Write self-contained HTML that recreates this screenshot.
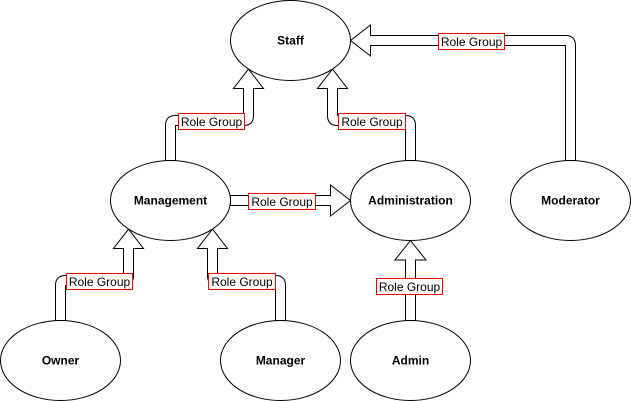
<!DOCTYPE html>
<html>
<head>
<meta charset="utf-8">
<style>
  html, body { margin:0; padding:0; background:#fff; }
  svg { display:block; }
  .lbl { font-family:"Liberation Sans", Arial, sans-serif; font-size:12px; fill:#000; }
  .node { font-family:"Liberation Sans", Arial, sans-serif; font-size:12px; font-weight:bold; fill:#000; }
</style>
</head>
<body>
<svg width="631" height="401" viewBox="0 0 631 401" xmlns="http://www.w3.org/2000/svg">
  <rect x="0" y="0" width="631" height="401" fill="#fff"/>
  <g transform="translate(0.5,0.5)" fill="#fff" stroke="#000" stroke-width="1" stroke-linejoin="miter">
    <!-- Arrows -->
    <path d="M165,160 L165,125 Q165,115 175,115 L243,115 L243,88 L233,88 L248,68.6 L263,88 L253,88 L253,115 Q253,125 243,125 L175,125 L175,160 Z"/>
    <path d="M405,160 L405,125 L337,125 Q327,125 327,115 L327,88 L317,88 L332,68.6 L347,88 L337,88 L337,115 L405,115 Q415,115 415,125 L415,160 Z"/>
    <path d="M565,160 L565,45 L370,45 L370,55.5 L350,40 L370,24.5 L370,35 L565,35 Q575,35 575,45 L575,160 Z"/>
    <path d="M230,195 L330,195 L330,184.5 L350,200 L330,215.5 L330,205 L230,205 Z"/>
    <path d="M55,320 L55,285 Q55,275 65,275 L123,275 L123,248 L113,248 L128,228.6 L143,248 L133,248 L133,275 Q133,285 123,285 L65,285 L65,320 Z"/>
    <path d="M285,320 L285,285 Q285,275 275,275 L217,275 L217,248 L227,248 L212,228.6 L197,248 L207,248 L207,275 Q207,285 217,285 L275,285 L275,320 Z"/>
    <path d="M405,320 L405,259.5 L394.5,259.5 L410,240 L425.5,259.5 L415,259.5 L415,320 Z"/>

    <!-- Ellipses -->
    <ellipse cx="290" cy="40" rx="60" ry="40"/>
    <ellipse cx="170" cy="200" rx="60" ry="40"/>
    <ellipse cx="410" cy="200" rx="60" ry="40"/>
    <ellipse cx="570" cy="200" rx="60" ry="40"/>
    <ellipse cx="60" cy="360" rx="60" ry="40"/>
    <ellipse cx="280" cy="360" rx="60" ry="40"/>
    <ellipse cx="410" cy="360" rx="60" ry="40"/>
  </g>

  <!-- Label boxes -->
  <g transform="translate(0.5,0.5)">
    <rect x="178" y="113" width="66" height="16" fill="#fff" stroke="#ff0000" stroke-width="1"/>
    <rect x="338" y="113" width="67" height="16" fill="#fff" stroke="#ff0000" stroke-width="1"/>
    <rect x="438" y="33" width="66" height="16" fill="#fff" stroke="#ff0000" stroke-width="1"/>
    <rect x="248" y="193" width="67" height="16" fill="#fff" stroke="#ff0000" stroke-width="1"/>
    <rect x="66" y="273" width="66" height="16" fill="#fff" stroke="#ff0000" stroke-width="1"/>
    <rect x="208" y="273" width="67" height="16" fill="#fff" stroke="#ff0000" stroke-width="1"/>
    <rect x="376" y="278" width="66" height="16" fill="#fff" stroke="#ff0000" stroke-width="1"/>
  </g>

  <!-- Label texts -->
  <g class="lbl" text-anchor="middle">
    <text x="211.5" y="126">Role Group</text>
    <text x="372" y="126">Role Group</text>
    <text x="471.5" y="46">Role Group</text>
    <text x="282" y="206">Role Group</text>
    <text x="99.5" y="286">Role Group</text>
    <text x="242" y="286">Role Group</text>
    <text x="409.5" y="291">Role Group</text>
  </g>

  <!-- Node texts -->
  <g class="node" text-anchor="middle">
    <text x="290.5" y="44.5">Staff</text>
    <text x="170.5" y="204.5">Management</text>
    <text x="410.5" y="204.5">Administration</text>
    <text x="570.5" y="204.5">Moderator</text>
    <text x="60.5" y="364.5">Owner</text>
    <text x="280.5" y="364.5">Manager</text>
    <text x="410.5" y="364.5">Admin</text>
  </g>
</svg>
</body>
</html>
